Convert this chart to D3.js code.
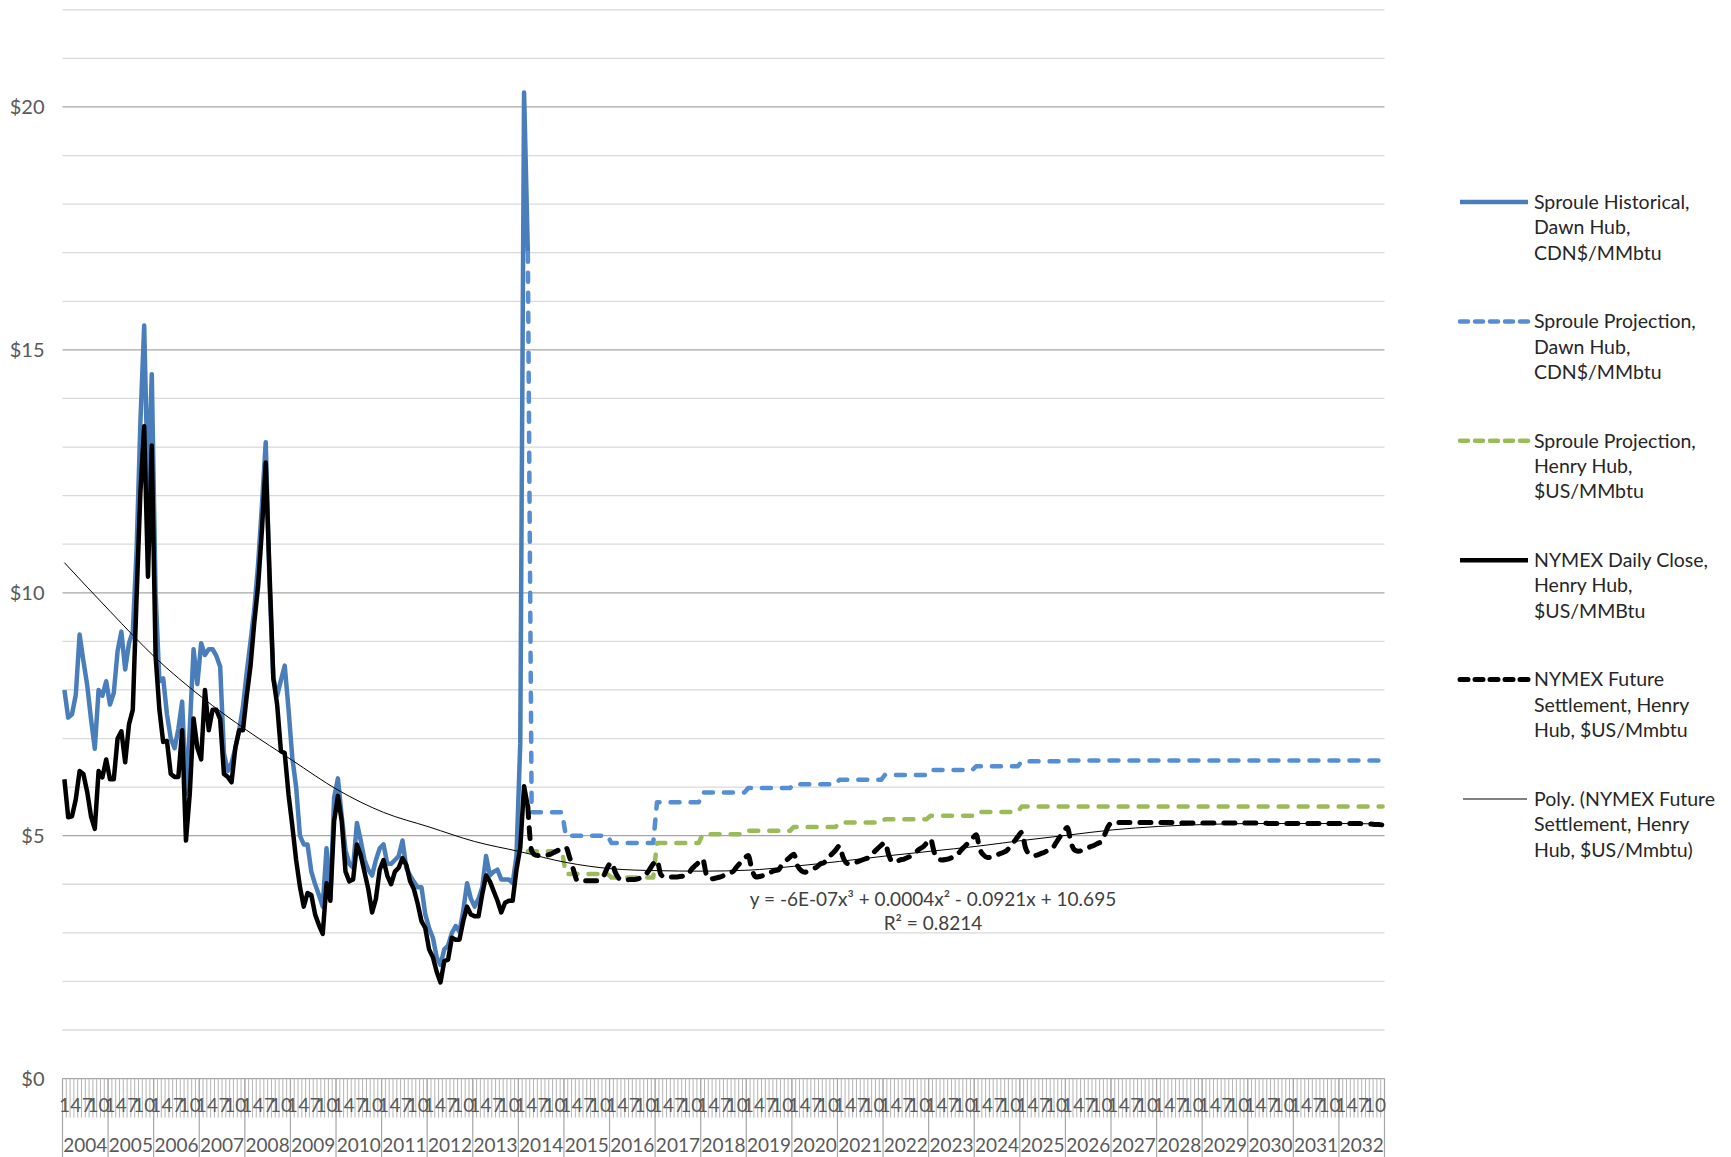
<!DOCTYPE html>
<html>
<head>
<meta charset="utf-8">
<script src="https://cdn.jsdelivr.net/npm/d3@7"></script>
<style>
  body { margin: 0; background: #fff; }
  svg { display: block; font-family: Lato, "Open Sans", sans-serif; }
</style>
</head>
<body>
<div id="vis-container"></div>
<script>
// category axis: months of each year
const years = ["2004", "2005", "2006", "2007", "2008", "2009", "2010", "2011", "2012", "2013",
  "2014", "2015", "2016", "2017", "2018", "2019", "2020", "2021", "2022", "2023",
  "2024", "2025", "2026", "2027", "2028", "2029", "2030", "2031", "2032"];
const monthNums = ["1", "2", "3", "4", "5", "6", "7", "8", "9", "10", "11", "12"];
const monthLabels = ["1", "4", "7", "10"];
const yTicks = [0, 5, 10, 15, 20];

// Sproule Historical, Dawn Hub, monthly from Jan 2004 to Mar 2014
const dawnHistorical = [
  8.0, 7.43, 7.5, 7.9, 9.14, 8.6, 8.1, 7.4, 6.79, 8.0, 7.88, 8.18,
  7.7, 7.94, 8.8, 9.2, 8.42, 8.96, 9.2, 10.86, 13.5, 15.5, 12.06, 14.5,
  10.0, 8.18, 8.24, 7.5, 7.0, 6.8, 7.2, 7.76, 5.86, 7.2, 8.84, 8.12,
  8.96, 8.72, 8.84, 8.84, 8.7, 8.48, 6.7, 6.33, 6.5, 6.8, 7.17, 7.65,
  8.36, 9.0, 9.67, 10.6, 11.8, 13.1, 10.15, 8.24, 7.88, 8.2, 8.5, 7.6,
  6.6, 6.0, 5.0, 4.82, 4.82, 4.26, 4.0, 3.78, 3.54, 4.74, 3.7, 5.78,
  6.18, 5.4, 4.7, 4.42, 4.34, 5.26, 4.9, 4.5, 4.3, 4.18, 4.5, 4.74,
  4.82, 4.42, 4.42, 4.5, 4.58, 4.9, 4.34, 4.18, 4.05, 3.94, 3.94, 3.38,
  3.1, 2.9, 2.5, 2.34, 2.66, 2.74, 3.0, 3.14, 3.02, 3.46, 4.02, 3.7,
  3.54, 3.7, 3.94, 4.58, 4.18, 4.26, 4.3, 4.1, 4.1, 4.1, 4.02, 4.58,
  6.9, 20.3, 17.0
];

// NYMEX Daily Close, Henry Hub, monthly from Jan 2004 to Mar 2014
const nymexClose = [
  6.16, 5.38, 5.4, 5.75, 6.33, 6.27, 5.9, 5.4, 5.14, 6.33, 6.2, 6.57,
  6.16, 6.16, 7.0, 7.15, 6.51, 7.29, 7.59, 9.91, 12.06, 13.43, 10.33, 13.03,
  8.7, 7.6, 6.93, 6.95, 6.27, 6.21, 6.21, 7.17, 4.9, 5.86, 7.41, 6.81,
  6.57, 8.0, 7.17, 7.59, 7.59, 7.4, 6.27, 6.21, 6.1, 6.81, 7.17, 7.17,
  7.88, 8.5, 9.4, 10.15, 11.3, 12.68, 10.4, 8.24, 7.7, 6.74, 6.7, 5.85,
  5.2, 4.5, 3.95, 3.54, 3.82, 3.78, 3.38, 3.16, 2.98, 4.02, 3.66, 5.3,
  5.82, 5.3, 4.26, 4.06, 4.1, 4.82, 4.6, 4.25, 3.9, 3.42, 3.7, 4.3,
  4.5, 4.18, 4.0, 4.26, 4.34, 4.54, 4.4, 4.06, 3.9, 3.6, 3.24, 3.1,
  2.66, 2.5, 2.2, 1.98, 2.42, 2.45, 2.9, 2.86, 2.86, 3.25, 3.54, 3.38,
  3.34, 3.34, 3.8, 4.18, 4.06, 3.86, 3.66, 3.42, 3.62, 3.66, 3.66, 4.3,
  4.75, 6.02, 5.6
];

// Sproule projections, one price per year 2014..2032
const projYears = ["2014", "2015", "2016", "2017", "2018", "2019", "2020", "2021", "2022", "2023",
  "2024", "2025", "2026", "2027", "2028", "2029", "2030", "2031", "2032"];
const dawnProjection = [5.48, 5.0, 4.85, 5.69, 5.89, 5.98, 6.06, 6.15, 6.25, 6.35,
  6.43, 6.53, 6.55, 6.55, 6.55, 6.55, 6.55, 6.55, 6.55];
const henryProjection = [4.68, 4.21, 4.14, 4.85, 5.03, 5.1, 5.18, 5.27, 5.34, 5.41,
  5.49, 5.6, 5.6, 5.6, 5.6, 5.6, 5.6, 5.6, 5.6];
const dawnProjStart = "2014-4";
const henryProjStart = "2014-3";

// NYMEX Future Settlement, Henry Hub, monthly from Mar 2014 to Dec 2032
const futureStart = "2014-3";
const nymexFuture = [
  5.6, 4.69, 4.6, 4.59, 4.59, 4.6, 4.62, 4.66, 4.7, 4.73,
  4.76, 4.55, 4.3, 4.08, 4.07, 4.07, 4.07, 4.07, 4.07, 4.1, 4.18, 4.35,
  4.45, 4.25, 4.12, 4.09, 4.09, 4.1, 4.1, 4.11, 4.16, 4.2, 4.3, 4.42,
  4.49, 4.2, 4.15, 4.14, 4.15, 4.15, 4.16, 4.17, 4.18, 4.3, 4.38, 4.45,
  4.52, 4.2, 4.11, 4.12, 4.14, 4.16, 4.2, 4.24, 4.26, 4.36, 4.45, 4.53,
  4.59, 4.3, 4.15, 4.16, 4.18, 4.2, 4.25, 4.28, 4.3, 4.42, 4.49, 4.56,
  4.62, 4.38, 4.28, 4.25, 4.28, 4.32, 4.35, 4.42, 4.45, 4.55, 4.62, 4.7,
  4.79, 4.55, 4.43, 4.42, 4.44, 4.47, 4.5, 4.53, 4.55, 4.65, 4.73, 4.8,
  4.86, 4.6, 4.46, 4.47, 4.5, 4.52, 4.55, 4.59, 4.65, 4.72, 4.77, 4.85,
  4.93, 4.65, 4.52, 4.5, 4.51, 4.53, 4.56, 4.6, 4.7, 4.78, 4.86, 4.94,
  5.02, 4.72, 4.6, 4.55, 4.56, 4.58, 4.62, 4.65, 4.69, 4.78, 4.88, 4.98,
  5.07, 4.75, 4.62, 4.59, 4.6, 4.63, 4.66, 4.7, 4.73, 4.85, 4.97, 5.07,
  5.17, 4.85, 4.7, 4.68, 4.7, 4.73, 4.77, 4.8, 4.84, 4.88, 5.05, 5.22,
  5.27, 5.27, 5.27, 5.27, 5.27, 5.27, 5.27, 5.27, 5.27, 5.27, 5.27, 5.27,
  5.27, 5.27, 5.27, 5.27, 5.27, 5.27, 5.26, 5.26, 5.26, 5.26, 5.26, 5.26,
  5.26, 5.26, 5.26, 5.26, 5.26, 5.26, 5.26, 5.26, 5.26, 5.26, 5.26, 5.26,
  5.26, 5.26, 5.26, 5.26, 5.26, 5.25, 5.25, 5.25, 5.25, 5.25, 5.25, 5.25,
  5.25, 5.25, 5.25, 5.25, 5.25, 5.25, 5.25, 5.25, 5.25, 5.25, 5.25, 5.25,
  5.25, 5.25, 5.25, 5.25, 5.25, 5.25, 5.24, 5.24, 5.24, 5.23, 5.23, 5.22
];

// Poly. trendline
const trendMonths = ["2004-1", "2005-1", "2006-1", "2007-1", "2008-1", "2009-1", "2010-1", "2011-1",
  "2012-1", "2013-1", "2014-1", "2015-1", "2016-1", "2017-1", "2018-1", "2019-1", "2020-1",
  "2021-1", "2022-1", "2023-1", "2024-1", "2025-1", "2026-1", "2027-1", "2028-1", "2029-1",
  "2030-1", "2031-1", "2032-1", "2032-12"];
const trendValues = [10.62, 9.62, 8.66, 7.86, 7.17, 6.55, 5.94, 5.48, 5.18, 4.88, 4.67, 4.45,
  4.32, 4.28, 4.27, 4.29, 4.37, 4.47, 4.58, 4.68, 4.78, 4.9, 5.01, 5.12, 5.19, 5.23, 5.25,
  5.25, 5.25, 5.24];

const equationText = ["y = -6E-07x³ + 0.0004x² - 0.0921x + 10.695", "R² = 0.8214"];

const legendLabels = [
  ["Sproule Historical,", "Dawn Hub,", "CDN$/MMbtu"],
  ["Sproule Projection,", "Dawn Hub,", "CDN$/MMbtu"],
  ["Sproule Projection,", "Henry Hub,", "$US/MMbtu"],
  ["NYMEX Daily Close,", "Henry Hub,", "$US/MMBtu"],
  ["NYMEX Future", "Settlement, Henry", "Hub, $US/Mmbtu"],
  ["Poly. (NYMEX Future", "Settlement, Henry", "Hub, $US/Mmbtu)"]
];

// line styles, same order as the legend
const styles = [
  { color: "#4a7ebb", width: 4.5, dash: null },
  { color: "#558ed5", width: 4.5, dash: "9,11" },
  { color: "#9bbb59", width: 4.5, dash: "9,11" },
  { color: "#000000", width: 4.5, dash: null },
  { color: "#000000", width: 5, dash: "11,10" },
  { color: "#000000", width: 1, dash: null }
];

const width = 1731;
const height = 1157;
const margin = { left: 62.5, right: 346.5, top: 9.8, bottom: 78.4 };
const textColor = "#595959";

const svg = d3.select("#vis-container")
  .append("svg")
  .attr("width", width)
  .attr("height", height);

const months = years.flatMap(y => monthNums.map(m => y + "-" + m));

const x = d3.scaleBand()
  .domain(months)
  .range([margin.left, width - margin.right]);
const cx = k => x(k) + x.bandwidth() / 2;

const y = d3.scaleLinear()
  .domain([0, 22])
  .range([height - margin.bottom, margin.top]);

const plotBottom = height - margin.bottom;

// gridlines
svg.append("g")
  .selectAll("line")
  .data(d3.range(0, 23))
  .join("line")
  .attr("x1", margin.left)
  .attr("x2", width - margin.right)
  .attr("y1", d => y(d))
  .attr("y2", d => y(d))
  .attr("stroke", d => d % 5 === 0 ? "#a6a6a6" : "#d9d9d9")
  .attr("stroke-width", 1.3);

// y-axis labels
svg.append("g")
  .attr("transform", `translate(${margin.left},0)`)
  .call(d3.axisLeft(y).tickValues(yTicks).tickFormat(d => "$" + d).tickSize(0).tickPadding(18))
  .call(g => g.select(".domain").remove())
  .selectAll("text")
  .attr("font-size", "20px")
  .attr("font-family", "Lato, 'Open Sans', sans-serif")
  .attr("fill", textColor);

// x-axis: month ticks, year separators, labels
const xAxis = svg.append("g");
const monthEdges = months.map(k => x(k)).concat([width - margin.right]);

xAxis.selectAll(".mtick")
  .data(monthEdges)
  .join("line")
  .attr("class", "mtick")
  .attr("x1", d => d).attr("x2", d => d)
  .attr("y1", plotBottom).attr("y2", plotBottom + 39)
  .attr("stroke", "#b4b4b4")
  .attr("stroke-width", 1);

const yearEdges = years.map(yr => x(yr + "-1")).concat([width - margin.right]);
xAxis.selectAll(".ytick")
  .data(yearEdges)
  .join("line")
  .attr("class", "ytick")
  .attr("x1", d => d).attr("x2", d => d)
  .attr("y1", plotBottom).attr("y2", height)
  .attr("stroke", "#a6a6a6")
  .attr("stroke-width", 1.2);

xAxis.selectAll(".mlabel")
  .data(years.flatMap(yr => monthLabels.map(m => yr + "-" + m)))
  .join("text")
  .attr("class", "mlabel")
  .attr("x", d => cx(d))
  .attr("y", plotBottom + 27)
  .attr("dy", "0.35em")
  .attr("text-anchor", "middle")
  .attr("font-size", "19px")
  .attr("fill", textColor)
  .text(d => d.split("-")[1]);

xAxis.selectAll(".ylabel")
  .data(years)
  .join("text")
  .attr("class", "ylabel")
  .attr("x", d => (x(d + "-1") + x(d + "-12") + x.bandwidth()) / 2)
  .attr("y", plotBottom + 67)
  .attr("dy", "0.35em")
  .attr("text-anchor", "middle")
  .attr("font-size", "19px")
  .attr("fill", textColor)
  .text(d => d);

// build series
const histDawnPts = dawnHistorical.map((v, i) => ({ k: months[i], v }));
const closePts = nymexClose.map((v, i) => ({ k: months[i], v }));

const dawnStartIdx = months.indexOf(dawnProjStart);
const dawnProjPts = [histDawnPts[histDawnPts.length - 1]].concat(
  months.slice(dawnStartIdx).map(k => ({ k, v: dawnProjection[projYears.indexOf(k.split("-")[0])] })));

const henryStartIdx = months.indexOf(henryProjStart);
const henryProjPts = months.slice(henryStartIdx)
  .map(k => ({ k, v: henryProjection[projYears.indexOf(k.split("-")[0])] }));

const futStartIdx = months.indexOf(futureStart);
const futurePts = nymexFuture.map((v, i) => ({ k: months[futStartIdx + i], v }));

const trendPts = trendMonths.map((k, i) => ({ k, v: trendValues[i] }));

const line = d3.line()
  .x(d => cx(d.k))
  .y(d => y(d.v));

const smoothLine = d3.line()
  .x(d => cx(d.k))
  .y(d => y(d.v))
  .curve(d3.curveMonotoneX);

const seriesData = [
  { pts: histDawnPts, gen: line, s: styles[0] },
  { pts: dawnProjPts, gen: line, s: styles[1] },
  { pts: henryProjPts, gen: line, s: styles[2] },
  { pts: closePts, gen: line, s: styles[3] },
  { pts: futurePts, gen: smoothLine, s: styles[4] },
  { pts: trendPts, gen: smoothLine, s: styles[5] }
];

svg.append("g")
  .selectAll("path")
  .data(seriesData)
  .join("path")
  .attr("fill", "none")
  .attr("stroke", d => d.s.color)
  .attr("stroke-width", d => d.s.width)
  .attr("stroke-dasharray", d => d.s.dash)
  .attr("stroke-linecap", d => d.s.dash ? "round" : "butt")
  .attr("stroke-linejoin", "round")
  .attr("d", d => d.gen(d.pts));

// trendline equation
svg.append("g")
  .selectAll("text")
  .data(equationText)
  .join("text")
  .attr("x", 933)
  .attr("y", (d, i) => 899 + i * 24)
  .attr("dy", "0.35em")
  .attr("text-anchor", "middle")
  .attr("font-size", "19px")
  .attr("fill", "#404040")
  .text(d => d);

// legend
const legend = svg.append("g");
const legendTop = 202;
const legendStep = 119.4;

const items = legend.selectAll("g")
  .data(legendLabels)
  .join("g")
  .attr("transform", (d, i) => `translate(0,${legendTop + i * legendStep})`);

items.append("line")
  .attr("x1", (d, i) => i === 5 ? 1463 : 1460)
  .attr("x2", (d, i) => i === 5 ? 1527 : 1528)
  .attr("stroke", (d, i) => styles[i].color)
  .attr("stroke-width", (d, i) => styles[i].width)
  .attr("stroke-dasharray", (d, i) => styles[i].dash ? "8,7" : null)
  .attr("stroke-linecap", (d, i) => styles[i].dash ? "round" : "butt");

items.append("text")
  .attr("x", 1534)
  .attr("font-size", "19.5px")
  .attr("fill", "#262626")
  .selectAll("tspan")
  .data(d => d)
  .join("tspan")
  .attr("x", 1534)
  .attr("y", (d, i) => i * 25.4)
  .attr("dy", "0.35em")
  .text(d => d);
</script>
</body>
</html>
